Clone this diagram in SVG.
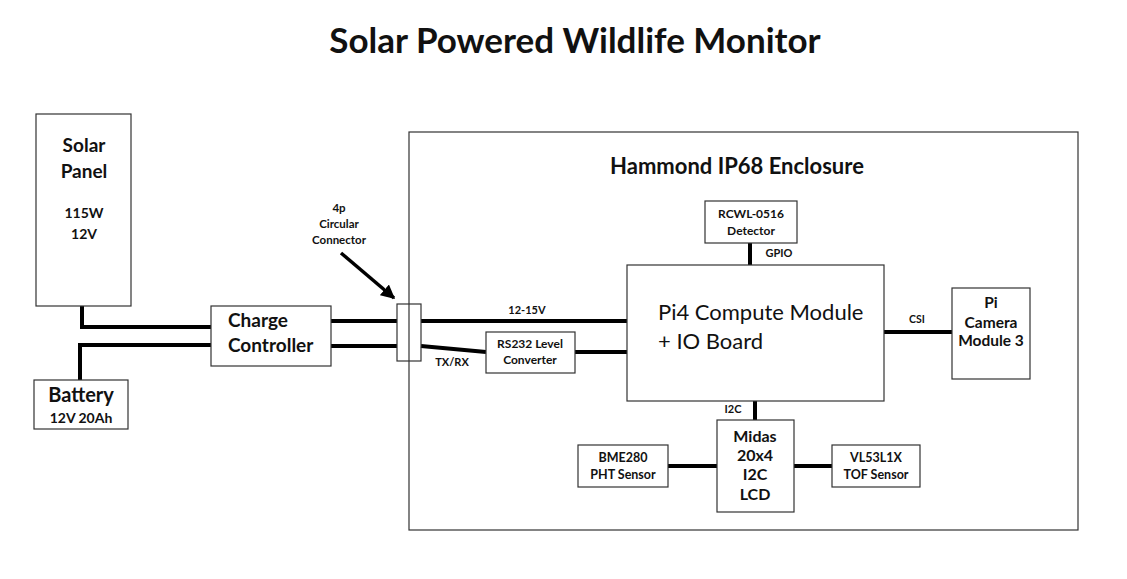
<svg xmlns="http://www.w3.org/2000/svg" width="1127" height="579" viewBox="0 0 1127 579">
<defs>
<style>
.box{fill:#fff;stroke:#333;stroke-width:1.2}
.t{font-family:Lato,"Liberation Sans",sans-serif;fill:#111;text-anchor:middle}
.b{font-weight:bold}
.w{stroke:#000;stroke-width:4;fill:none}
</style>
<marker id="ah" viewBox="0 0 10 10" refX="9" refY="5" markerWidth="4" markerHeight="4" orient="auto" markerUnits="strokeWidth">
<path d="M0,0 L10,5 L0,10 z" fill="#000"/>
</marker>
</defs>
<rect width="1127" height="579" fill="#fff"/>
<text class="t b" x="575" y="53" font-size="35">Solar Powered Wildlife Monitor</text>

<g id="enclosure">
<rect class="box" x="409" y="132" width="669" height="398"/>
<text class="t b" x="737" y="174" font-size="22">Hammond IP68 Enclosure</text>
</g>

<g id="connectors">
<polyline class="w" points="82,306 82,327 211,327"/>
<polyline class="w" points="80,380 80,345 211,345"/>
<line class="w" x1="331" y1="321" x2="397" y2="321"/>
<line class="w" x1="331" y1="346" x2="397" y2="346"/>
<line class="w" x1="421" y1="321" x2="627" y2="321"/>
<line class="w" x1="421" y1="346" x2="486" y2="352"/>
<line class="w" x1="575" y1="352" x2="627" y2="352"/>
<line class="w" x1="884" y1="332" x2="952" y2="332"/>
<line class="w" x1="750" y1="243" x2="750" y2="265"/>
<line class="w" x1="755" y1="401" x2="755" y2="420"/>
<line class="w" x1="668" y1="466" x2="717" y2="466"/>
<line class="w" x1="794" y1="466" x2="832" y2="466"/>
<line x1="341" y1="253" x2="394" y2="298" stroke="#000" stroke-width="3.5" marker-end="url(#ah)"/>
<text class="t b" x="527" y="314" font-size="11">12-15V</text>
<text class="t b" x="452" y="366" font-size="11">TX/RX</text>
<text class="t b" x="917" y="323" font-size="10.5">CSI</text>
<text class="t b" x="779" y="257" font-size="11">GPIO</text>
<text class="t b" x="733" y="413" font-size="11">I2C</text>
</g>

<g id="solar-panel">
<rect class="box" x="36" y="114" width="95" height="192"/>
<text class="t b" x="84" y="152" font-size="19">Solar</text>
<text class="t b" x="84" y="178" font-size="19">Panel</text>
<text class="t b" x="84" y="218" font-size="14">115W</text>
<text class="t b" x="84" y="239" font-size="14">12V</text>
</g>

<g id="battery">
<rect class="box" x="34" y="380" width="94" height="49"/>
<text class="t b" x="81" y="402" font-size="20">Battery</text>
<text class="t b" x="81" y="423" font-size="14">12V 20Ah</text>
</g>

<g id="charge-controller">
<rect class="box" x="211" y="306" width="120" height="60"/>
<text class="t b" x="228" y="327" font-size="19" style="text-anchor:start">Charge</text>
<text class="t b" x="228" y="352" font-size="19" style="text-anchor:start">Controller</text>
</g>

<g id="circular-connector">
<rect x="397" y="304" width="24" height="57" fill="none" stroke="#333" stroke-width="1.2"/>
<text class="t b" x="339" y="212" font-size="11.5">4p</text>
<text class="t b" x="339" y="228" font-size="11.5">Circular</text>
<text class="t b" x="339" y="244" font-size="11.5">Connector</text>
</g>

<g id="rs232">
<rect class="box" x="486" y="332" width="89" height="41"/>
<text class="t b" x="530" y="348" font-size="12">RS232 Level</text>
<text class="t b" x="530" y="364" font-size="12">Converter</text>
</g>

<g id="pi4">
<rect class="box" x="627" y="265" width="257" height="136"/>
<text class="t" x="658" y="320" font-size="22" style="text-anchor:start">Pi4 Compute Module</text>
<text class="t" x="658" y="349" font-size="22" style="text-anchor:start">+ IO Board</text>
</g>

<g id="rcwl">
<rect class="box" x="705" y="201" width="92" height="42"/>
<text class="t b" x="751" y="218" font-size="12">RCWL-0516</text>
<text class="t b" x="751" y="235" font-size="12">Detector</text>
</g>

<g id="camera">
<rect class="box" x="952" y="288" width="78" height="91"/>
<text class="t b" x="991" y="308" font-size="15.5">Pi</text>
<text class="t b" x="991" y="328" font-size="15.5">Camera</text>
<text class="t b" x="991" y="346" font-size="15.5">Module 3</text>
</g>

<g id="midas">
<rect class="box" x="717" y="420" width="77" height="92"/>
<text class="t b" x="755" y="442" font-size="16">Midas</text>
<text class="t b" x="755" y="461" font-size="16">20x4</text>
<text class="t b" x="755" y="480" font-size="16">I2C</text>
<text class="t b" x="755" y="500" font-size="16">LCD</text>
</g>

<g id="bme280">
<rect class="box" x="578" y="445" width="90" height="42"/>
<text class="t b" x="623" y="462" font-size="12.5">BME280</text>
<text class="t b" x="623" y="479" font-size="12.5">PHT Sensor</text>
</g>

<g id="vl53l1x">
<rect class="box" x="832" y="445" width="88" height="42"/>
<text class="t b" x="876" y="462" font-size="12.5">VL53L1X</text>
<text class="t b" x="876" y="479" font-size="12.5">TOF Sensor</text>
</g>
</svg>
